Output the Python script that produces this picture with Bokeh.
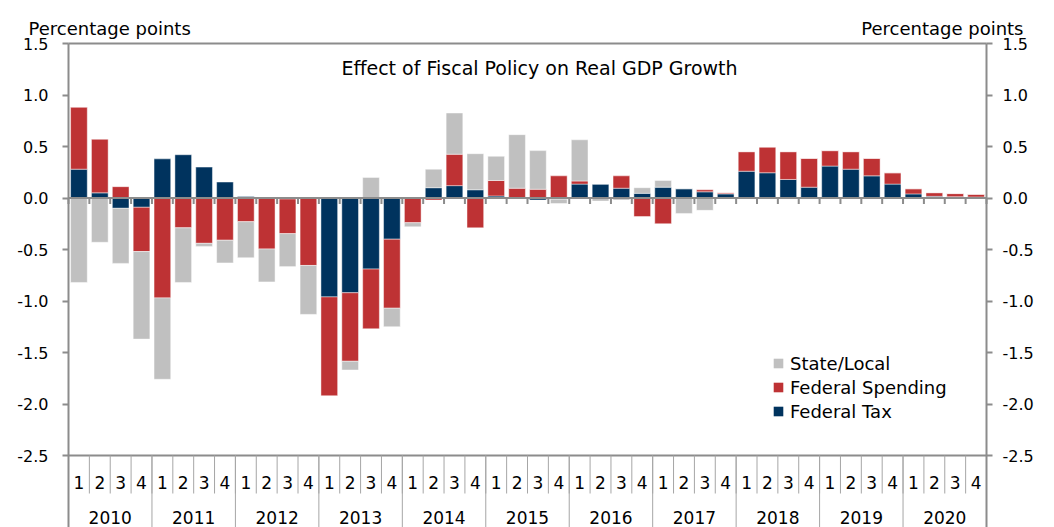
import numpy as np
from bokeh.plotting import figure
from bokeh.models import (ColumnDataSource, Range1d, LinearAxis, FixedTicker,
                          NumeralTickFormatter, Label, Legend, LegendItem)
from bokeh.core.properties import value
from bokeh.embed import file_html
from bokeh.resources import INLINE

# ---------------- data ----------------
years = ["2010", "2011", "2012", "2013", "2014", "2015",
         "2016", "2017", "2018", "2019", "2020"]
quarter_labels = ["1", "2", "3", "4"]

fed_tax = [0.28, 0.05, -0.10, -0.09,
           0.38, 0.42, 0.30, 0.155,
           0.015, -0.005, -0.01, 0.0,
           -0.96, -0.92, -0.69, -0.40,
           0.0, 0.10, 0.12, 0.08,
           0.02, -0.01, -0.02, -0.012,
           0.135, 0.135, 0.095, 0.045,
           0.105, 0.09, 0.06, 0.04,
           0.26, 0.245, 0.18, 0.105,
           0.31, 0.28, 0.215, 0.135,
           0.04, 0.016, 0.013, 0.01]

fed_spending = [0.60, 0.52, 0.11, -0.43,
                -0.97, -0.29, -0.44, -0.41,
                -0.23, -0.49, -0.336, -0.655,
                -0.96, -0.665, -0.58, -0.67,
                -0.24, -0.02, 0.305, -0.29,
                0.15, 0.095, 0.085, 0.215,
                0.03, 0.0, 0.12, -0.18,
                -0.25, 0.0, 0.02, 0.01,
                0.19, 0.25, 0.27, 0.28,
                0.15, 0.17, 0.17, 0.11,
                0.05, 0.036, 0.03, 0.026]

state_local = [-0.82, -0.43, -0.535, -0.85,
               -0.79, -0.53, -0.03, -0.22,
               -0.35, -0.32, -0.32, -0.475,
               0.0, -0.085, 0.20, -0.18,
               -0.04, 0.18, 0.40, 0.35,
               0.235, 0.52, 0.375, -0.042,
               0.40, -0.03, -0.02, 0.055,
               0.065, -0.15, -0.12, 0.0,
               0.0, 0.0, 0.0, 0.0,
               0.0, 0.0, 0.0, 0.0,
               0.0, 0.0, 0.0, 0.0]

legend_names = ["State/Local", "Federal Spending", "Federal Tax"]
y_ticks = [-2.5, -2.0, -1.5, -1.0, -0.5, 0.0, 0.5, 1.0, 1.5]
title_text = "Effect of Fiscal Policy on Real GDP Growth"
unit_label = "Percentage points"

# ---------------- styles / layout ----------------
FONT = "DejaVu Sans"
C_TAX = "#00335E"
C_SPEND = "#BE3234"
C_SL = "#C0C0C0"
AX = "#8C8C8C"
SEP = "#A6A6A6"

W, H = 1054, 527
PLOT_L, PLOT_R = 68, 986        # pixel x of the two value axes
PLOT_T, PLOT_B = 43, 455        # pixel y of the top and bottom tick values
Y_MIN, Y_MAX = y_ticks[0], y_ticks[-1]

nq = len(quarter_labels)
n = len(years) * nq
xc = np.arange(n) + 0.5
pxu = (PLOT_R - PLOT_L) / n                 # pixels per quarter
PX = (PLOT_B - PLOT_T) / (Y_MAX - Y_MIN)    # pixels per percentage point

x_start = -PLOT_L / pxu
x_end = n + (W - PLOT_R) / pxu
y_top = Y_MAX + PLOT_T / PX
y_bot = Y_MIN - (H - PLOT_B) / PX

# ---------------- stacking ----------------
pos_base = np.zeros(n)
neg_base = np.zeros(n)
stacks = []
for vals in (fed_tax, fed_spending, state_local):
    v = np.asarray(vals, dtype=float)
    bottom = np.where(v >= 0, pos_base, neg_base)
    top = bottom + v
    pos_base = np.where(v >= 0, top, pos_base)
    neg_base = np.where(v < 0, top, neg_base)
    stacks.append((bottom, top))

p = figure(width=W, height=H, x_range=Range1d(x_start, x_end), y_range=Range1d(y_bot, y_top),
           x_axis_location=None, y_axis_location=None,
           output_backend="svg", toolbar_location=None,
           min_border_left=0, min_border_right=0, min_border_top=0, min_border_bottom=0,
           outline_line_color=None, background_fill_color="white", border_fill_color="white")
p.grid.visible = False

# value axes (left and right), fixed at the edges of the bar area
for side, loc, standoff in (("left", 0, 14), ("right", n, 10)):
    ax = LinearAxis(ticker=FixedTicker(ticks=y_ticks, minor_ticks=[]),
                    formatter=NumeralTickFormatter(format="0.0"),
                    fixed_location=loc, bounds=(y_bot, Y_MAX),
                    major_tick_out=6, major_tick_in=0, minor_tick_out=0, minor_tick_in=0,
                    axis_line_color=AX, axis_line_width=2,
                    major_tick_line_color=AX, major_tick_line_width=2,
                    major_label_text_font=FONT, major_label_text_font_size="16px",
                    major_label_text_color="black", major_label_standoff=standoff)
    p.add_layout(ax, side)

# bars
colors = [C_TAX, C_SPEND, C_SL]
for (bottom, top), col in zip(stacks, colors):
    src = ColumnDataSource(dict(x=xc, bottom=bottom, top=top))
    p.vbar(x="x", width=0.8, bottom="bottom", top="top", source=src,
           fill_color=col, line_color="white", line_alpha=0.45, line_width=1)

# horizontal frame lines (top, bottom) and zero line
hl = [Y_MAX, Y_MIN, 0.0]
p.segment(x0=np.zeros(3), y0=hl, x1=np.full(3, n), y1=hl, line_color=AX, line_width=2)

bounds = np.arange(n + 1)
tick_len = 6 / PX
p.segment(x0=bounds, y0=np.zeros(n + 1), x1=bounds, y1=np.full(n + 1, -tick_len),
          line_color=AX, line_width=2)

# category axis drawn below the bottom line
q_sep_bot = Y_MIN - 38 / PX
p.segment(x0=bounds, y0=np.full(n + 1, Y_MIN), x1=bounds, y1=np.full(n + 1, q_sep_bot),
          line_color=SEP, line_width=1)
yb = bounds[::nq]
p.segment(x0=yb, y0=np.full(len(yb), Y_MIN), x1=yb, y1=np.full(len(yb), y_bot),
          line_color=SEP, line_width=1)

q_text = [quarter_labels[i % nq] for i in range(n)]
p.text(x=xc, y=np.full(n, Y_MIN - 27 / PX), text=q_text,
       text_font=value(FONT), text_font_size="17px", text_color="black",
       text_align="center", text_baseline="middle")
yc = np.arange(len(years)) * nq + nq / 2
p.text(x=yc, y=np.full(len(years), Y_MIN - 62 / PX), text=years,
       text_font=value(FONT), text_font_size="17px", text_color="black",
       text_align="center", text_baseline="middle")

# texts
p.add_layout(Label(x=(539 - PLOT_L) / pxu, y=Y_MAX - 24 / PX, text=title_text,
                   text_font=FONT, text_font_size="19px", text_color="black",
                   text_align="center", text_baseline="middle"))
p.add_layout(Label(x=(28 - PLOT_L) / pxu, y=Y_MAX + 15 / PX, text=unit_label,
                   text_font=FONT, text_font_size="18px", text_color="black",
                   text_align="left", text_baseline="alphabetic"))
p.add_layout(Label(x=n + (1023 - PLOT_R) / pxu, y=Y_MAX + 15 / PX, text=unit_label,
                   text_font=FONT, text_font_size="18px", text_color="black",
                   text_align="right", text_baseline="alphabetic"))

# legend
leg_r = []
for col in (C_SL, C_SPEND, C_TAX):
    leg_r.append(p.scatter(x=[np.nan], y=[np.nan], marker="square",
                           fill_color=col, line_color=None, size=10))
legend = Legend(items=[LegendItem(label=nm, renderers=[r]) for nm, r in zip(legend_names, leg_r)],
                location=(766, 104), glyph_width=24, glyph_height=24, label_height=24,
                label_standoff=0, spacing=0, padding=0, margin=0,
                border_line_color=None, background_fill_alpha=0,
                label_text_font=FONT, label_text_font_size="18px", label_text_color="black")
p.add_layout(legend)

open("out.html", "w").write(file_html(p, INLINE, title=title_text))
